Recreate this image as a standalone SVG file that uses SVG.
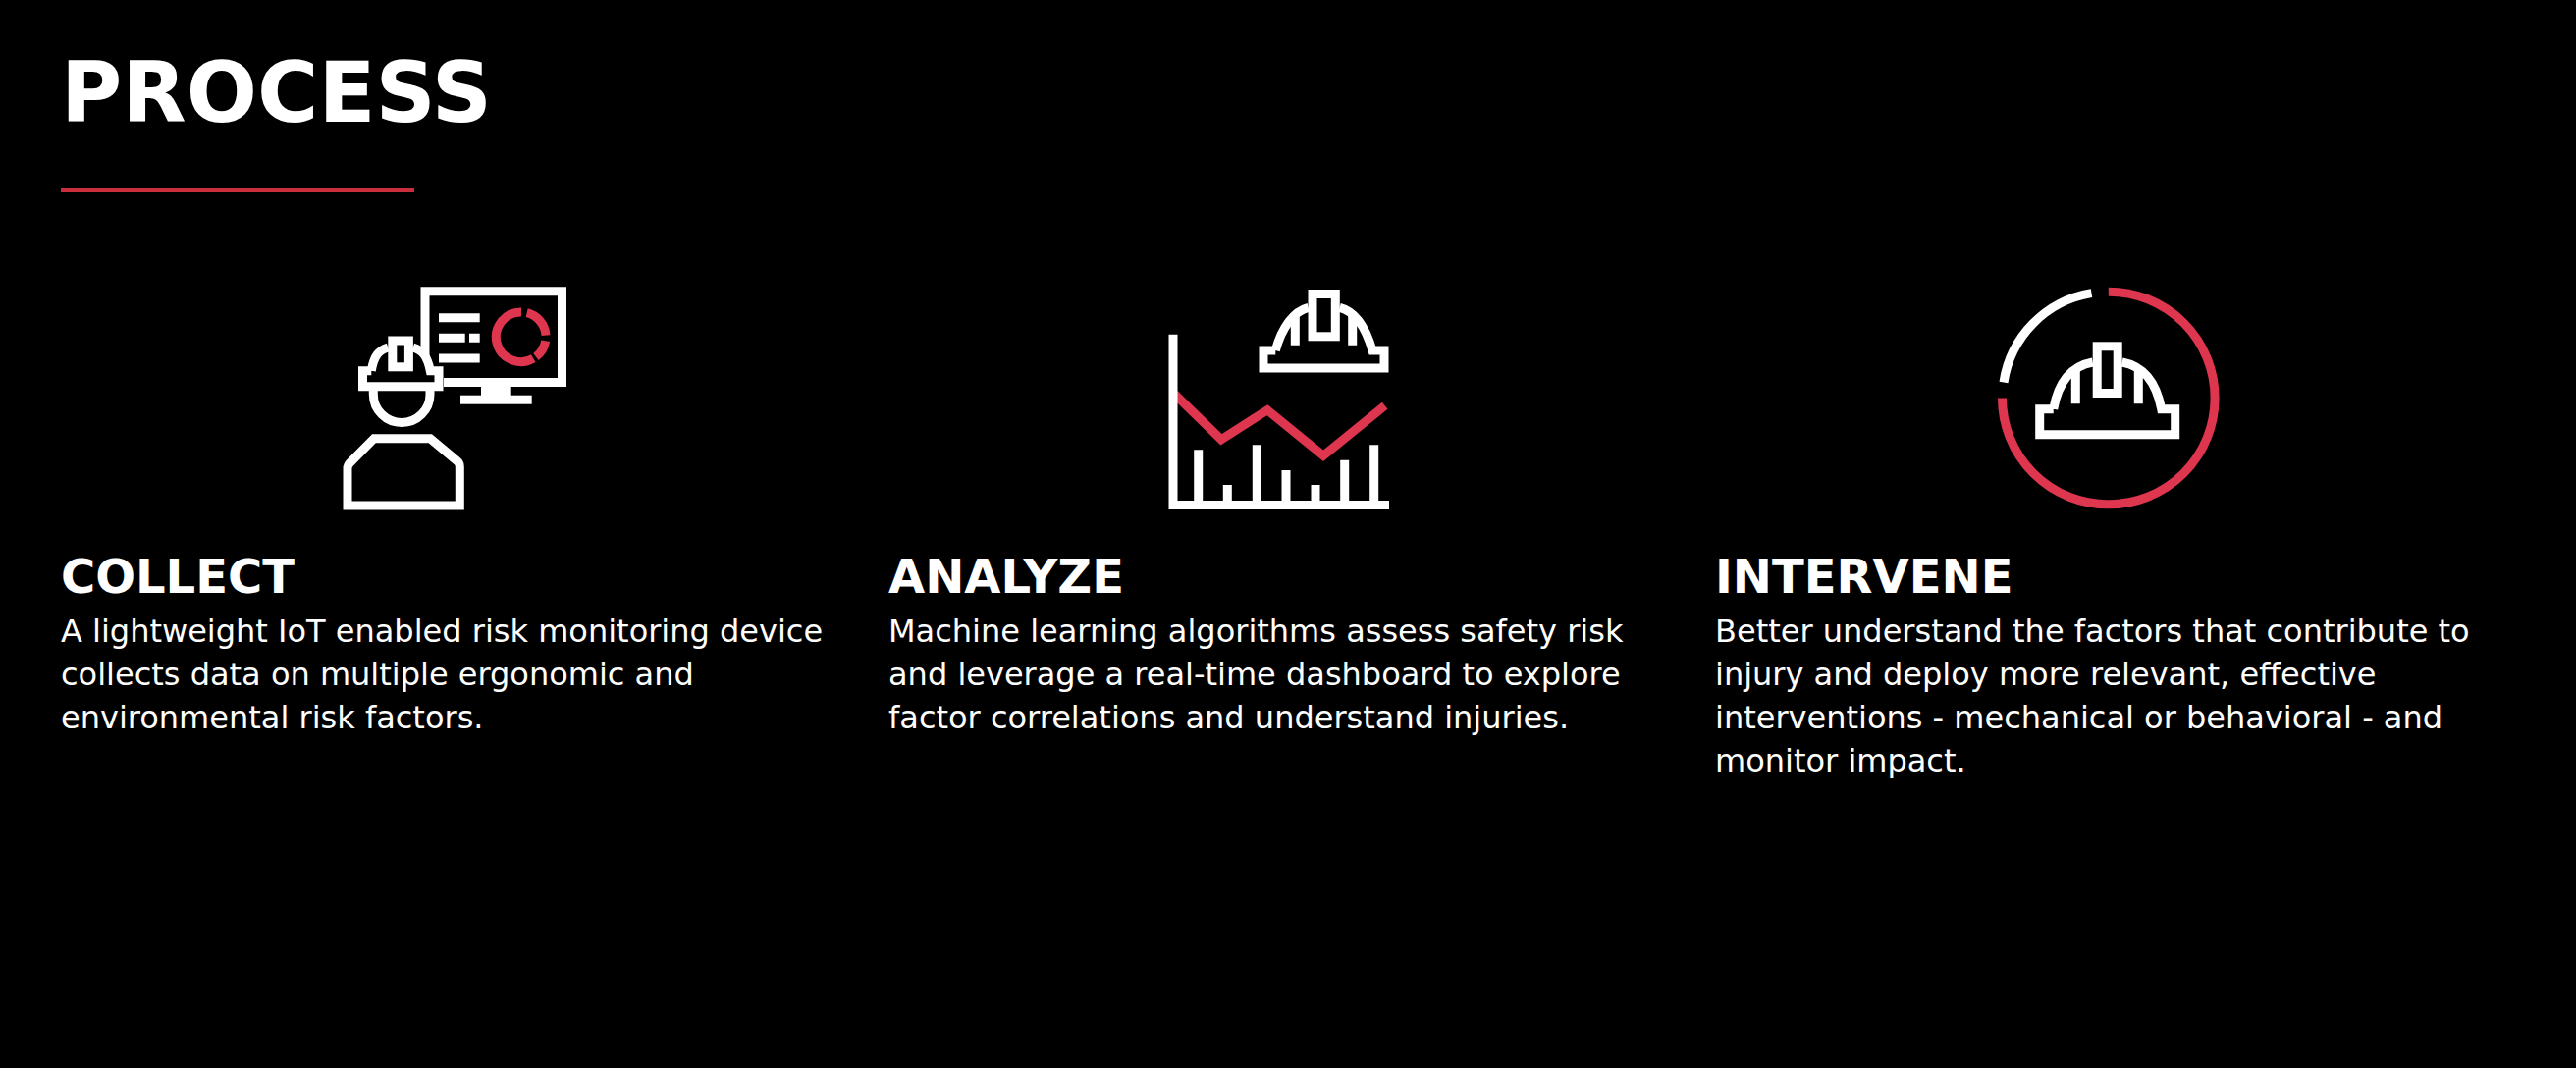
<svg xmlns="http://www.w3.org/2000/svg" width="2624" height="1088" viewBox="0 0 2624 1088">
<style>
text{font-family:"DejaVu Sans",sans-serif;fill:#fff}
.title{font-size:85px;font-weight:700}
.head{font-size:48px;font-weight:700}
.body{font-size:32px}
.w{fill:none;stroke:#fff;stroke-width:9;stroke-miterlimit:10}
.r{fill:none;stroke:#dd364e;stroke-width:9;stroke-miterlimit:10}
.rule{fill:#9a9a9a}
</style>
<rect width="2624" height="1088" fill="#000"/>
<g id="header">
<text class="title" x="62" y="124">PROCESS</text>
<rect x="62" y="192" width="360" height="4" fill="#c82e3c"/>
</g>
<g id="collect">
<path class="w" d="M433,362V296.800H572.500V389.500H452"/>
<path class="w" d="M447,323.700H488.700M447,344.300H473.700M478,344.300H488.700M447,365H488.700"/>
<path class="r" d="M531,318A25.300,25.300 0 1 0 543.300,365.200M536.700,318.700A25.300,25.300 0 0 1 556,341.600M555.700,347.300A25.300,25.300 0 0 1 545.900,363.500"/>
<rect x="490" y="394" width="30.700" height="9" fill="#fff"/>
<rect x="469" y="402.700" width="72.700" height="9" fill="#fff"/>
<path class="w" d="M378.300,377.700H369.500V393.800H447V377.700H438.300C435,362 430,357 420.700,354M395.300,354C386,357 381,362 378.300,377.700"/>
<rect class="w" x="399.800" y="347" width="16.600" height="26.800"/>
<path class="w" d="M380.300,398V401.700A28.800,28.700 0 0 0 438,401.700V398"/>
<path class="w" d="M381,446.700H438.300L466,470Q468.300,472 468.300,476V515H354V477Q354,474 357,471Z"/>
<text class="head" x="62" y="604">COLLECT</text>
<text class="body"><tspan x="62" y="654">A lightweight IoT enabled risk monitoring device</tspan><tspan x="62" y="698">collects data on multiple ergonomic and</tspan><tspan x="62" y="742">environmental risk factors.</tspan></text>
<rect class="rule" x="62" y="1006" width="802" height="1"/>
</g>
<g id="analyze">
<path class="r" d="M1195,400L1244,447.700L1291,417.700L1348,464.300L1410.700,413.300"/>
<path class="w" d="M1195,340.700V514.500H1415"/>
<path class="w" d="M1220.700,510V458.300M1250.300,510V494M1280.300,510V453.300M1310,510V479M1340,510V494M1369.700,510V468.700M1399.700,510V453.300"/>
<path class="w" d="M1299.300,357H1287V375H1410V357H1398C1391,333 1380,317 1364.700,313.300M1332.700,313.300C1318,317 1306,333 1299.300,357"/>
<rect class="w" x="1337" y="299.500" width="23.300" height="43.300"/>
<path class="w" d="M1319.300,322V351.700M1377.700,322V351.700"/>
<text class="head" x="905" y="604">ANALYZE</text>
<text class="body"><tspan x="905" y="654">Machine learning algorithms assess safety risk</tspan><tspan x="905" y="698">and leverage a real-time dashboard to explore</tspan><tspan x="905" y="742">factor correlations and understand injuries.</tspan></text>
<rect class="rule" x="904" y="1006" width="803" height="1"/>
</g>
<g id="intervene">
<path class="r" d="M2147.800,297.200A108.300,108.300 0 1 1 2039.500,405.500"/>
<path class="w" d="M2041,389.500A108.300,108.300 0 0 1 2130.500,298.600"/>
<path class="w" d="M2091.700,416.700H2077.700V442.700H2215.700V416.700H2201.700C2196,388 2183,373 2161.700,369M2131.700,369C2110,373 2097,388 2091.700,416.700"/>
<rect class="w" x="2136.200" y="352.800" width="21" height="47.700"/>
<path class="w" d="M2114.300,378V411.300M2178.300,378V411.300"/>
<text class="head" x="1747" y="604">INTERVENE</text>
<text class="body"><tspan x="1747" y="654">Better understand the factors that contribute to</tspan><tspan x="1747" y="698">injury and deploy more relevant, effective</tspan><tspan x="1747" y="742">interventions - mechanical or behavioral - and</tspan><tspan x="1747" y="786">monitor impact.</tspan></text>
<rect class="rule" x="1747" y="1006" width="803" height="1"/>
</g>
</svg>
